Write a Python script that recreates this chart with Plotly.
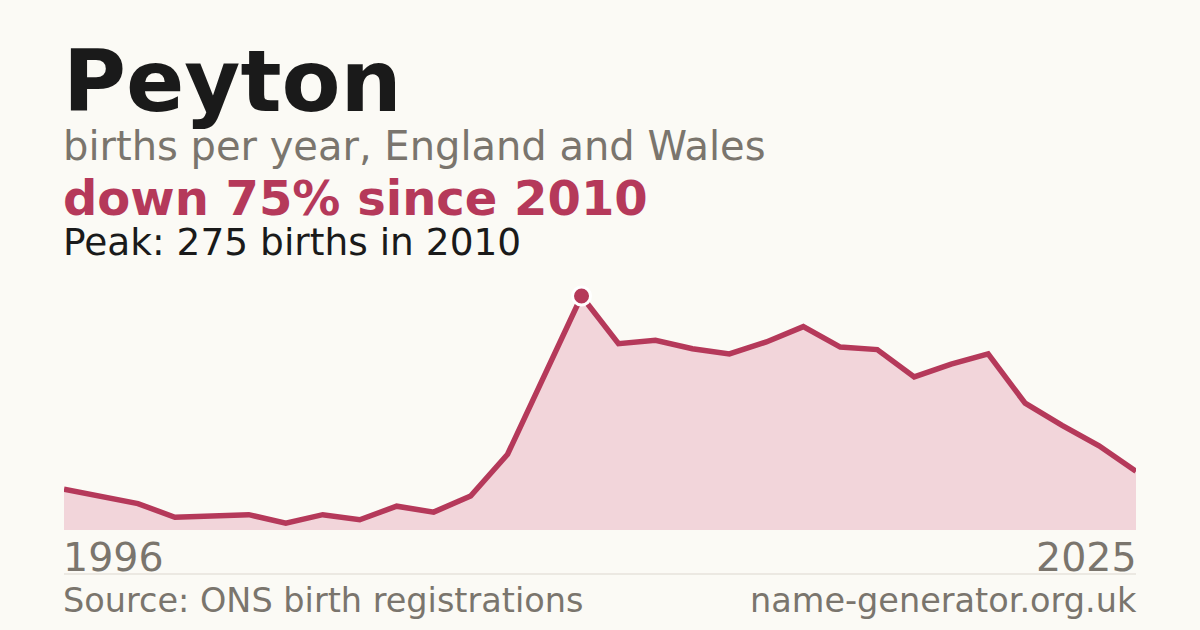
import plotly.graph_objects as go

# Births per year for the name Peyton, England and Wales
years = list(range(1996, 2026))
births = [48, 39, 31, 15, 16, 18, 8, 18, 12, 28,
          21, 40, 89, 182, 275, 219, 223, 213, 207, 221,
          239, 215, 212, 180, 195, 207, 149, 123, 99, 69]

peak_year = 2010
peak_births = 275
first_year, last_year = years[0], years[-1]

name = "Peyton"
subtitle = "births per year, England and Wales"
headline = "down 75% since 2010"
peak_text = f"Peak: {peak_births} births in {peak_year}"
source = "Source: ONS birth registrations"
site = "name-generator.org.uk"

BG = "#fbfaf5"
RED = "#b5395a"
FILL = "#f2d5da"
GREY = "#7a756d"
INK = "#1a1a1a"
FONT = "DejaVu Sans"

# plot area runs from y=280 to y=530 (pixels)
TOP, BOTTOM = 280, 530


def py(pix):
    return (BOTTOM - pix) / (BOTTOM - TOP)


fig = go.Figure()
fig.add_trace(go.Scatter(x=years, y=births, mode="lines", fill="tozeroy",
                         fillcolor=FILL, line=dict(color=RED, width=5.5),
                         hoverinfo="skip"))
fig.add_trace(go.Scatter(x=[peak_year], y=[peak_births], mode="markers",
                         marker=dict(color=RED, size=18,
                                     line=dict(color="white", width=3)),
                         hoverinfo="skip"))

texts = [
    (name, 86, INK, True, 112),
    (subtitle, 40, GREY, False, 161),
    (headline, 48, RED, True, 216),
    (peak_text, 37.5, INK, False, 257),
]
for txt, size, color, bold, base in texts:
    fig.add_annotation(text=f"<b>{txt}</b>" if bold else txt,
                       xref="paper", yref="paper", x=0, y=py(base + 0.24 * size),
                       xanchor="left", yanchor="bottom", xshift=-3,
                       showarrow=False,
                       font=dict(family=FONT, size=size, color=color))

fig.add_annotation(text=str(first_year), xref="x", yref="paper", x=first_year,
                   y=py(573 + 0.24 * 39.5), xanchor="left", yanchor="bottom",
                   xshift=-3, showarrow=False,
                   font=dict(family=FONT, size=39.5, color=GREY))
fig.add_annotation(text=str(last_year), xref="x", yref="paper", x=last_year,
                   y=py(573 + 0.24 * 39.5), xanchor="right", yanchor="bottom",
                   xshift=3, showarrow=False,
                   font=dict(family=FONT, size=39.5, color=GREY))
fig.add_annotation(text=source, xref="paper", yref="paper", x=0,
                   y=py(614 + 0.24 * 33.5), xanchor="left", yanchor="bottom",
                   xshift=-3, showarrow=False,
                   font=dict(family=FONT, size=33.5, color=GREY))
fig.add_annotation(text=site, xref="paper", yref="paper", x=1,
                   y=py(614 + 0.24 * 33.5), xanchor="right", yanchor="bottom",
                   xshift=3, showarrow=False,
                   font=dict(family=FONT, size=33.5, color=GREY))

fig.add_shape(type="line", xref="paper", yref="paper", x0=0, x1=1,
              y0=py(574), y1=py(574), line=dict(color="#dcd7cf", width=1))

fig.update_layout(
    width=1200, height=630,
    margin=dict(l=64, r=64, t=TOP, b=630 - BOTTOM, pad=0),
    paper_bgcolor=BG, plot_bgcolor=BG,
    showlegend=False,
    xaxis=dict(range=[first_year, last_year], visible=False, fixedrange=True),
    yaxis=dict(range=[0, peak_births * (BOTTOM - TOP) / 234], visible=False,
               fixedrange=True),
)

# drop the browser's default page margin so the figure sits at 0,0
fig.write_html("out.html", config={"displayModeBar": False},
               post_script="document.body.style.margin='0';"
                           f"document.body.style.background='{BG}';")
